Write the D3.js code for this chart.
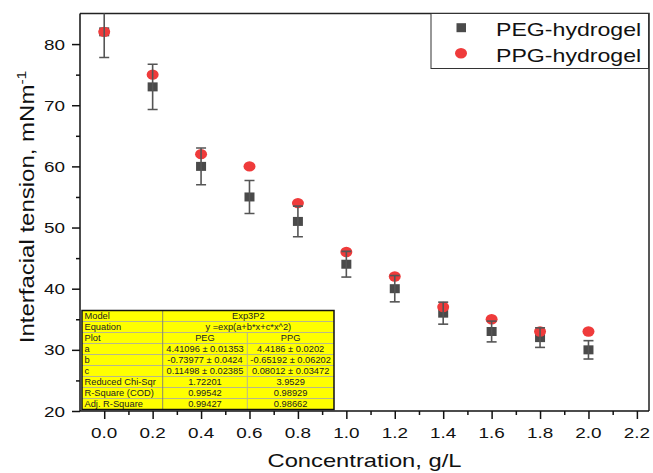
<!DOCTYPE html>
<html>
<head>
<meta charset="utf-8">
<script src="https://cdn.jsdelivr.net/npm/d3@7"></script>
<style>
  html, body { margin: 0; padding: 0; background: #fff; }
  svg { display: block; font-family: "Liberation Sans", Arial, sans-serif; }
</style>
</head>
<body>
<svg id="chart" width="653" height="473"></svg>
<script>
// Interfacial tension versus hydrogel concentration
const concentration = [0.0, 0.2, 0.4, 0.6, 0.8, 1.0, 1.2, 1.4, 1.6, 1.8, 2.0];
const pegTension    = [82, 73, 60, 55, 51, 44, 40, 36, 33, 32, 30];
const pegError      = [4.2, 3.7, 3.0, 2.7, 2.5, 2.1, 2.15, 1.8, 1.7, 1.6, 1.5];
const ppgTension    = [82, 75, 62, 60, 54, 46, 42, 37, 35, 33, 33];

const xTickValues = [0.0, 0.2, 0.4, 0.6, 0.8, 1.0, 1.2, 1.4, 1.6, 1.8, 2.0, 2.2];
const xMinorTicks = [0.1, 0.3, 0.5, 0.7, 0.9, 1.1, 1.3, 1.5, 1.7, 1.9, 2.1];
const yTickValues = [20, 30, 40, 50, 60, 70, 80];
const yMinorTicks = [25, 35, 45, 55, 65, 75, 85];

const seriesNames = ["PEG-hydrogel", "PPG-hydrogel"];

// Fit parameter table (Exp3P2 model)
const fitModel = "Exp3P2";
const fitEquation = "y =exp(a+b*x+c*x^2)";
const fitRowLabels = ["Model", "Equation", "Plot", "a", "b", "c",
                      "Reduced Chi-Sqr", "R-Square (COD)", "Adj. R-Square"];
const fitPEG = ["PEG", "4.41096 \u00b1 0.01353", "-0.73977 \u00b1 0.0424",
                "0.11498 \u00b1 0.02385", "1.72201", "0.99542", "0.99427"];
const fitPPG = ["PPG", "4.4186 \u00b1 0.0202", "-0.65192 \u00b1 0.06202",
                "0.08012 \u00b1 0.03472", "3.9529", "0.98929", "0.98662"];

const svg = d3.select("#chart");
const SX = 1.22; // horizontal widening of the lettering

const plot = { left: 80, right: 649, top: 13.5, bottom: 411 };
const x = d3.scaleLinear().domain([-0.1, 2.25]).range([plot.left, plot.right]);
const y = d3.scaleLinear().domain([20, 85]).range([plot.bottom, plot.top]);

function label(parent, tx, ty, text, opts) {
  const o = Object.assign({ size: 15.5, anchor: "start", rotate: 0, sx: SX }, opts || {});
  const t = parent.append("text")
    .attr("transform", `translate(${tx},${ty})` + (o.rotate ? ` rotate(${o.rotate})` : "") + ` scale(${o.sx},1)`)
    .attr("text-anchor", o.anchor)
    .attr("font-size", o.size)
    .attr("fill", "#111");
  if (text !== null) t.text(text);
  return t;
}

// Frame: top and right edges
svg.append("path")
  .attr("d", `M${plot.left},${plot.top}H${plot.right}V${plot.bottom}`)
  .attr("fill", "none").attr("stroke", "#222").attr("stroke-width", 1.5);

// Bottom axis
const xAxis = svg.append("g").attr("transform", `translate(0,${plot.bottom})`)
  .call(d3.axisBottom(x).tickValues(xTickValues).tickSize(8).tickFormat(""));
xAxis.append("g").call(d3.axisBottom(x).tickValues(xMinorTicks).tickSize(4).tickFormat(""))
  .select(".domain").remove();
xAxis.selectAll(".domain").attr("d", `M${plot.left},0H${plot.right}`);

// Left axis
const yAxis = svg.append("g").attr("transform", `translate(${plot.left},0)`)
  .call(d3.axisLeft(y).tickValues(yTickValues).tickSize(8).tickFormat(""));
yAxis.append("g").call(d3.axisLeft(y).tickValues(yMinorTicks.filter(v => v < 85)).tickSize(4).tickFormat(""))
  .select(".domain").remove();
yAxis.selectAll(".domain").attr("d", `M0,${plot.bottom}V${plot.top}`);

svg.selectAll(".tick line, .domain").attr("stroke", "#111").attr("stroke-width", 1.5);

// Tick labels
xTickValues.forEach(v => label(svg, x(v), 438, d3.format(".1f")(v), { anchor: "middle" }));
yTickValues.forEach(v => label(svg, plot.left - 15, y(v) + 5.5, String(v), { anchor: "end" }));

// Axis titles
label(svg, (plot.left + plot.right) / 2, 466.5, "Concentration, g/L", { size: 19, anchor: "middle", sx: 1.25 });
const yt = label(svg, 34, 207, null, { size: 20, anchor: "middle", rotate: -90, sx: 1.2 });
yt.append("tspan").text("Interfacial tension, mNm");
yt.append("tspan").attr("font-size", 13).attr("dy", -8).text("-1");

// Fit table
const table = { left: 82, right: 334, top: 310.5, bottom: 409.5, col1: 162.7, col2: 247.3 };
const rowH = (table.bottom - table.top) / fitRowLabels.length;
const tg = svg.append("g");
tg.append("rect")
  .attr("x", table.left).attr("y", table.top)
  .attr("width", table.right - table.left).attr("height", table.bottom - table.top)
  .attr("fill", "#ffff00");
fitRowLabels.forEach((_, i) => {
  if (i === 0) return;
  tg.append("line")
    .attr("x1", table.left).attr("x2", table.right)
    .attr("y1", table.top + i * rowH).attr("y2", table.top + i * rowH)
    .attr("stroke", "#b8b88a").attr("stroke-width", 1);
});
tg.append("line").attr("x1", table.col1).attr("x2", table.col1)
  .attr("y1", table.top).attr("y2", table.bottom).attr("stroke", "#8a8a6a").attr("stroke-width", 1);
tg.append("line").attr("x1", table.col2).attr("x2", table.col2)
  .attr("y1", table.top + 2 * rowH).attr("y2", table.bottom).attr("stroke", "#b8b88a").attr("stroke-width", 1);
tg.append("rect")
  .attr("x", table.left).attr("y", table.top)
  .attr("width", table.right - table.left).attr("height", table.bottom - table.top)
  .attr("fill", "none").attr("stroke", "#111").attr("stroke-width", 1.5);

const cellText = (tx, ty, text, anchor) => tg.append("text")
  .attr("x", tx).attr("y", ty).attr("text-anchor", anchor)
  .attr("font-size", 9.3).attr("fill", "#222").text(text);

fitRowLabels.forEach((lab, i) => {
  const by = table.top + i * rowH + 8.6;
  cellText(table.left + 2.5, by, lab, "start");
  if (i === 0) cellText((table.col1 + table.right) / 2, by, fitModel, "middle");
  else if (i === 1) cellText((table.col1 + table.right) / 2, by, fitEquation, "middle");
  else {
    cellText((table.col1 + table.col2) / 2, by, fitPEG[i - 2], "middle");
    cellText((table.col2 + table.right) / 2, by, fitPPG[i - 2], "middle");
  }
});

// Data marks
const clip = svg.append("clipPath").attr("id", "plotClip").append("rect")
  .attr("x", plot.left).attr("y", plot.top)
  .attr("width", plot.right - plot.left).attr("height", plot.bottom - plot.top);
const marks = svg.append("g").attr("clip-path", "url(#plotClip)");

const pegColor = "#4a4a4a";
const ppgColor = "#ef3b3b";
const barColor = "#555";

const peg = concentration.map((c, i) => ({ c, v: pegTension[i], e: pegError[i] }));
const ppg = concentration.map((c, i) => ({ c, v: ppgTension[i] }));

marks.selectAll("rect.peg").data(peg).join("rect").attr("class", "peg")
  .attr("x", d => x(d.c) - 5).attr("y", d => y(d.v) - 4.5)
  .attr("width", 10).attr("height", 9).attr("fill", pegColor);

marks.selectAll("ellipse.ppg").data(ppg).join("ellipse").attr("class", "ppg")
  .attr("cx", d => x(d.c)).attr("cy", d => y(d.v))
  .attr("rx", 6).attr("ry", 5.2).attr("fill", ppgColor);

const bars = marks.selectAll("g.err").data(peg).join("g").attr("class", "err")
  .attr("stroke", barColor).attr("stroke-width", 1.6);
bars.append("line")
  .attr("x1", d => x(d.c)).attr("x2", d => x(d.c))
  .attr("y1", d => y(d.v + d.e)).attr("y2", d => y(d.v - d.e));
bars.append("line")
  .attr("x1", d => x(d.c) - 5).attr("x2", d => x(d.c) + 5)
  .attr("y1", d => y(d.v + d.e)).attr("y2", d => y(d.v + d.e));
bars.append("line")
  .attr("x1", d => x(d.c) - 5).attr("x2", d => x(d.c) + 5)
  .attr("y1", d => y(d.v - d.e)).attr("y2", d => y(d.v - d.e));

// Legend
const lg = svg.append("g");
lg.append("rect").attr("x", 431).attr("y", 13.5).attr("width", 217.5).attr("height", 55)
  .attr("fill", "#fff").attr("stroke", "#333").attr("stroke-width", 1);
lg.append("rect").attr("x", 456.5).attr("y", 23.2).attr("width", 9.5).attr("height", 9).attr("fill", pegColor);
lg.append("ellipse").attr("cx", 461).attr("cy", 53.3).attr("rx", 6).attr("ry", 5.2).attr("fill", ppgColor);
label(lg, 496, 36, seriesNames[0], { size: 18.5, sx: 1.25 });
label(lg, 496, 61.7, seriesNames[1], { size: 18.5, sx: 1.25 });
</script>
</body>
</html>
